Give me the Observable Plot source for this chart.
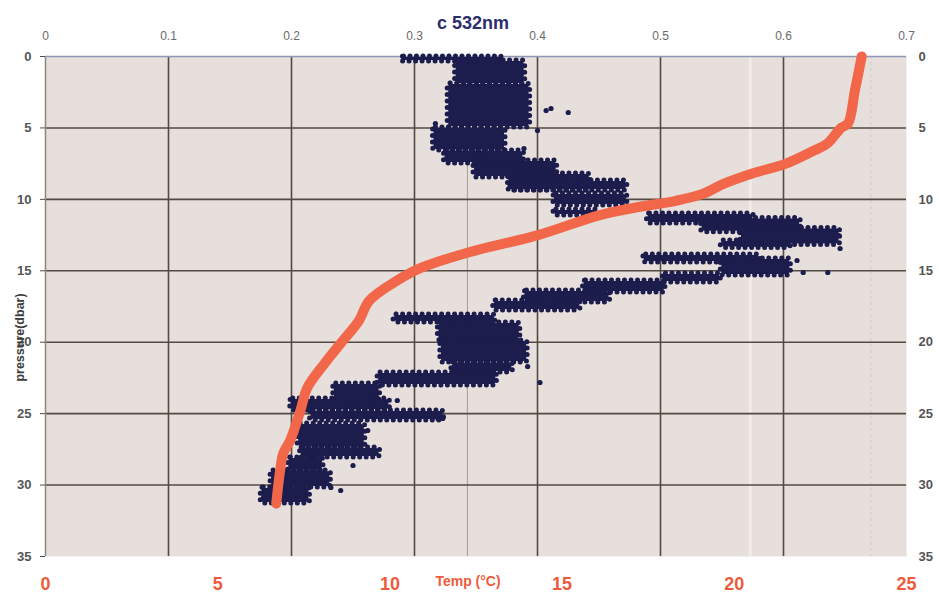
<!DOCTYPE html>
<html><head><meta charset="utf-8">
<script src="https://cdn.jsdelivr.net/npm/d3@7"></script>
<script src="https://cdn.jsdelivr.net/npm/@observablehq/plot@0.6"></script>
<style>body{margin:0;background:#fff;}</style>
</head><body><div id="chart"></div>
<script>
// ---- data ----
const cTicks = [0, 0.1, 0.2, 0.3, 0.4, 0.5, 0.6, 0.7];
const pressureTicks = [0, 5, 10, 15, 20, 25, 30, 35];
const tempTicks = [0, 5, 10, 15, 20, 25];
const title = "c 532nm";
const tempLabel = "Temp (°C)";
const pressureLabel = "pressure(dbar)";

// temperature profile: pressure (dbar), temperature (°C)
const profilePressure = [0, 2.4, 4.7, 5.0, 6.1, 6.6, 7.5, 8.2, 8.9, 9.6, 10.1, 10.5, 11.1, 12.5, 13.7, 14.8, 15.7, 17.1, 18.5, 20.0, 21.5, 23.2, 24.8, 26.9, 27.8, 29.2, 31.3];
const profileTemp     = [23.7, 23.5, 23.3, 23.1, 22.7, 22.3, 21.5, 20.5, 19.7, 19.1, 18.3, 17.3, 16.1, 14.3, 12.3, 10.9, 10.2, 9.4, 9.1, 8.6, 8.1, 7.6, 7.4, 7.1, 6.9, 6.8, 6.7];

// c 532nm scatter, dense streaks: [pressure top, pressure bottom, c min, c max]
const cStreaks = [
  [0.0, 0.35, 0.289, 0.372],
  [0.28, 1.96, 0.333, 0.390],
  [1.89, 4.97, 0.327, 0.394],
  [4.97, 6.58, 0.315, 0.374],
  [6.58, 7.49, 0.324, 0.389],
  [7.28, 8.47, 0.348, 0.416],
  [8.19, 9.38, 0.376, 0.443],
  [8.68, 9.38, 0.378, 0.473],
  [9.59, 10.43, 0.413, 0.473],
  [10.71, 11.13, 0.413, 0.449],
  [10.99, 11.69, 0.489, 0.576],
  [11.30, 12.30, 0.533, 0.614],
  [12.00, 13.20, 0.565, 0.646],
  [12.88, 13.40, 0.549, 0.606],
  [13.86, 14.42, 0.486, 0.581],
  [14.14, 15.33, 0.549, 0.606],
  [15.19, 15.82, 0.502, 0.549],
  [15.68, 16.52, 0.437, 0.504],
  [16.38, 17.22, 0.389, 0.459],
  [17.08, 17.78, 0.364, 0.435],
  [18.06, 18.62, 0.283, 0.366],
  [18.62, 19.88, 0.319, 0.386],
  [19.88, 21.42, 0.321, 0.392],
  [21.42, 22.12, 0.330, 0.380],
  [22.12, 23.03, 0.270, 0.367],
  [22.89, 24.08, 0.234, 0.272],
  [23.94, 24.78, 0.199, 0.280],
  [24.78, 25.48, 0.215, 0.324],
  [25.69, 27.37, 0.205, 0.260],
  [27.37, 28.07, 0.207, 0.272],
  [28.07, 28.98, 0.197, 0.226],
  [28.98, 30.17, 0.183, 0.232],
  [30.17, 31.29, 0.175, 0.215]
];
// isolated points: [c, pressure]
const cOutliers = [
  [0.425, 3.92], [0.407, 3.78], [0.411, 3.64], [0.389, 6.44], [0.317, 4.69], [0.400, 5.18], [0.407, 7.84],
  [0.645, 12.53], [0.646, 13.44], [0.616, 15.12], [0.636, 15.12], [0.611, 14.28],
  [0.402, 22.82], [0.386, 21.28], [0.392, 21.70], [0.286, 24.08], [0.262, 26.18], [0.250, 28.63],
  [0.232, 30.17], [0.240, 30.38], [0.177, 30.94], [0.319, 25.34], [0.323, 25.34]
];
// faint scan lines on the grid (c units)
const faintLines = [0.343];
const paleBands = [0.573];
const dashedLines = [0.671];

// ---- chart ----
const K = 0.7 / 25; // temperature axis shares the horizontal extent of the c axis
const profile = profilePressure.map((p, i) => ({p, t: profileTemp[i]}));

const grid = "#534a42";
const navy = "#1c1d4d";
const chart = Plot.plot({
  width: 939, height: 596,
  marginLeft: 45, marginRight: 33, marginTop: 56, marginBottom: 40,
  x: {domain: [0, 0.7]},
  y: {domain: [0, 35], reverse: true},
  style: {fontFamily: "'Liberation Sans', Arial, sans-serif", background: "white"},
  marks: [
    Plot.frame({fill: "#e6dfdb", stroke: null}),
    Plot.ruleX(paleBands, {stroke: "#f1ece9", strokeWidth: 3}),
    Plot.ruleX(dashedLines, {stroke: "#cfc8c4", strokeWidth: 1, strokeDasharray: "3 3"}),
    Plot.ruleX(faintLines, {stroke: "#a89d94", strokeWidth: 1}),
    Plot.gridX(cTicks.slice(1, -1), {stroke: grid, strokeOpacity: 1, strokeWidth: 1.6}),
    Plot.gridY(pressureTicks.slice(1, -1), {stroke: grid, strokeOpacity: 1, strokeWidth: 1.6}),
    Plot.ruleX([0], {stroke: "#8c8681", strokeWidth: 1.5}),
    Plot.ruleY([0], {stroke: "#8e97b8", strokeWidth: 1.5}),
    Plot.axisX(cTicks, {anchor: "top", tickSize: 0, tickPadding: 17, label: null,
      tickFormat: d => String(d), fill: "#6a6a6a", fontSize: 12}),
    Plot.axisX(tempTicks.map(t => t * K), {anchor: "bottom", tickSize: 0, tickPadding: 21, label: null,
      tickFormat: d => String(Math.round(d / K)), fill: "#ee5b3c", fontSize: 18, fontWeight: "bold"}),
    Plot.axisY(pressureTicks, {anchor: "left", tickSize: 5, tickPadding: 9, label: null,
      stroke: grid, fill: "#555", fontSize: 13, fontWeight: "bold"}),
    Plot.axisY(pressureTicks, {anchor: "right", tickSize: 0, tickPadding: 12, label: null,
      fill: "#555", fontSize: 13, fontWeight: "bold"}),
    Plot.rect(cStreaks, {x1: d => d[2], x2: d => d[3], y1: d => d[0], y2: d => d[1],
      fill: navy, rx: 3, inset: 1}),
    Plot.rect(cStreaks, {x1: d => d[2], x2: d => d[3], y1: d => d[0], y2: d => d[1],
      fill: "none", stroke: navy, strokeWidth: 5, strokeDasharray: "0 6.5", strokeLinecap: "round", rx: 3}),
    Plot.dot(cOutliers, {x: d => d[0], y: d => d[1], r: 2.6, fill: navy}),
    Plot.line(profile, {x: d => d.t * K, y: "p", stroke: "#f2674a", strokeWidth: 10,
      strokeLinecap: "round", strokeLinejoin: "round", curve: "catmull-rom"}),
    Plot.text([title], {frameAnchor: "top", dx: -3, dy: -28, fontSize: 18, fontWeight: "bold", fill: "#2c2e6b", lineAnchor: "bottom"}),
    Plot.text([tempLabel], {frameAnchor: "bottom", dx: -8, dy: 29, fontSize: 14, fontWeight: "bold", fill: "#ee5b3c"}),
    Plot.text([pressureLabel], {frameAnchor: "left", dx: -26, dy: 31, rotate: -90, textAnchor: "middle",
      fontSize: 12.5, fontWeight: "bold", fill: "#3c3c3c"})
  ]
});
document.getElementById("chart").appendChild(chart);
</script>
</body></html>
